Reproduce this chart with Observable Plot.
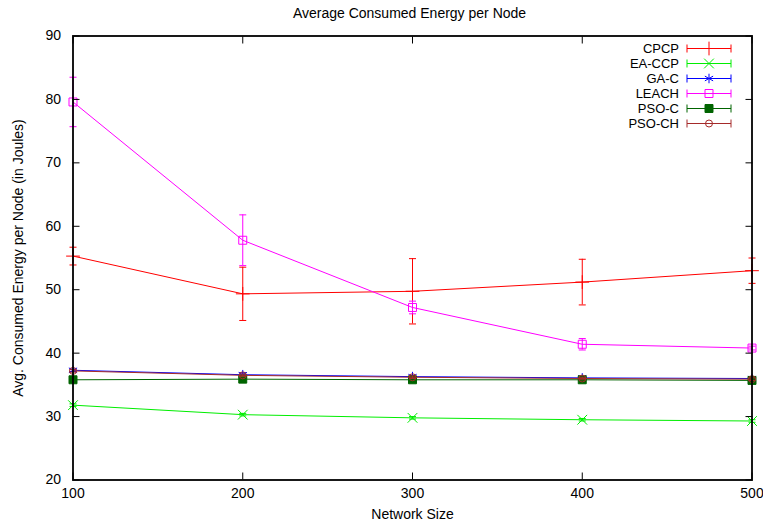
<!DOCTYPE html>
<html>
<head>
<meta charset="utf-8">
<script src="https://cdn.jsdelivr.net/npm/d3@7"></script>
<script src="https://cdn.jsdelivr.net/npm/@observablehq/plot@0.6"></script>
<style>
  html, body { margin: 0; padding: 0; background: #fff; }
  #wrap { position: relative; width: 763px; height: 531px; font-family: "Liberation Sans", Arial, Helvetica, sans-serif; }
  #title { position: absolute; left: 0; top: 0; width: 763px; height: 24px; text-align: center; font-size: 14px; line-height: 26px; padding-left: 56px; box-sizing: border-box; }
  #chart { position: absolute; left: 0; top: 24px; }
  #legend { position: absolute; left: 0; top: 0; }
</style>
</head>
<body>
<div id="wrap">
  <div id="title">Average Consumed Energy per Node</div>
  <div id="chart"></div>
  <svg id="legend" width="763" height="531"></svg>
</div>
<script>
const networkSize = [100, 200, 300, 400, 500];
const xTicks = [100, 200, 300, 400, 500];
const yTicks = [20, 30, 40, 50, 60, 70, 80, 90];

const seriesNames = ["CPCP", "EA-CCP", "GA-C", "LEACH", "PSO-C", "PSO-CH"];
const seriesColors = ["#ff0000", "#00ee00", "#0000ff", "#ff00ff", "#006400", "#a52a2a"];
const seriesSymbols = ["plus", "times", "asterisk", "square", "square", "circle"];
const seriesFilled = [false, false, false, false, true, false];

const cpcp     = [55.3, 49.35, 49.75, 51.2, 53.0];
const cpcpErr  = [1.4, 4.2, 5.15, 3.6, 2.0];
const eaccp    = [31.8, 30.3, 29.8, 29.5, 29.3];
const eaccpErr = [0.2, 0.2, 0.2, 0.2, 0.2];
const gac      = [37.3, 36.6, 36.3, 36.1, 36.0];
const gacErr   = [0.2, 0.3, 0.2, 0.2, 0.2];
const leach    = [79.6, 57.8, 47.2, 41.4, 40.8];
const leachErr = [3.9, 4.0, 1.0, 0.9, 0.3];
const psoc     = [35.8, 35.9, 35.8, 35.8, 35.7];
const psocErr  = [0.2, 0.2, 0.2, 0.2, 0.2];
const psoch    = [37.2, 36.5, 36.2, 36.0, 35.9];
const psochErr = [0.2, 0.2, 0.2, 0.2, 0.2];

const values = [cpcp, eaccp, gac, leach, psoc, psoch];
const errors = [cpcpErr, eaccpErr, gacErr, leachErr, psocErr, psochErr];

const rows = [];
seriesNames.forEach((name, si) => {
  networkSize.forEach((x, i) => {
    rows.push({series: name, si, x, y: values[si][i], lo: values[si][i] - errors[si][i], hi: values[si][i] + errors[si][i]});
  });
});

const cap = {draw(ctx) { ctx.moveTo(-3.5, 0); ctx.lineTo(3.5, 0); }};
const font = '"Liberation Sans", Arial, Helvetica, sans-serif';

const marks = [];
seriesNames.forEach((name, si) => {
  const d = rows.filter(r => r.si === si);
  const c = seriesColors[si];
  marks.push(Plot.line(d, {x: "x", y: "y", stroke: c, strokeWidth: 1}));
  marks.push(Plot.ruleX(d, {x: "x", y1: "lo", y2: "hi", stroke: c, strokeWidth: 1}));
  marks.push(Plot.dot(d, {x: "x", y: "lo", symbol: cap, stroke: c, strokeWidth: 1, r: 3}));
  marks.push(Plot.dot(d, {x: "x", y: "hi", symbol: cap, stroke: c, strokeWidth: 1, r: 3}));
  marks.push(Plot.dot(d, {x: "x", y: "y", symbol: seriesSymbols[si], stroke: c, fill: seriesFilled[si] ? c : "none", strokeWidth: 1, r: seriesSymbols[si] === "circle" ? 3.5 : 4.5}));
});

const chart = Plot.plot({
  width: 763,
  height: 507,
  marginTop: 11.5,
  marginBottom: 51.5,
  marginLeft: 72.5,
  marginRight: 11.5,
  style: {fontFamily: font, fontSize: "14px", color: "black", background: "white", overflow: "visible"},
  x: {domain: [100, 500]},
  y: {domain: [20, 90]},
  marks: [
    ...marks,
    Plot.axisX({ticks: xTicks, tickSize: -7, tickFormat: () => "", label: null, strokeWidth: 1}),
    Plot.axisX({anchor: "top", ticks: xTicks, tickSize: -7, tickFormat: () => "", label: null, strokeWidth: 1}),
    Plot.axisY({ticks: yTicks, tickSize: -7, tickFormat: () => "", label: null, strokeWidth: 1}),
    Plot.axisY({anchor: "right", ticks: yTicks, tickSize: -7, tickFormat: () => "", label: null, strokeWidth: 1}),
    Plot.axisX({ticks: xTicks, tickSize: 0, tickPadding: 8, label: null, fontSize: 14}),
    Plot.axisY({ticks: yTicks, tickSize: 0, tickPadding: 12, label: null, fontSize: 14}),
    Plot.frame({stroke: "black", strokeWidth: 1.8}),
    Plot.text(["Network Size"], {frameAnchor: "bottom", dy: 39, fontSize: 14, textAnchor: "middle"}),
    Plot.text(["Avg. Consumed Energy per Node (in Joules)"], {frameAnchor: "left", rotate: -90, dx: -54, fontSize: 14, textAnchor: "middle"})
  ]
});
document.getElementById("chart").appendChild(chart);

// legend
const lg = d3.select("#legend");
const typeMap = {plus: d3.symbolPlus, times: d3.symbolTimes, asterisk: d3.symbolAsterisk, square: d3.symbolSquare, circle: d3.symbolCircle};
seriesNames.forEach((name, i) => {
  const y = 48.5 + 15 * i;
  const c = seriesColors[i];
  const g = lg.append("g");
  g.append("text").attr("x", 679).attr("y", y).attr("dy", "0.35em").attr("text-anchor", "end")
    .attr("font-family", font).attr("font-size", 13).text(name);
  g.append("line").attr("x1", 687).attr("x2", 731).attr("y1", y).attr("y2", y).attr("stroke", c);
  g.append("line").attr("x1", 687).attr("x2", 687).attr("y1", y - 4).attr("y2", y + 4).attr("stroke", c);
  g.append("line").attr("x1", 731).attr("x2", 731).attr("y1", y - 4).attr("y2", y + 4).attr("stroke", c);
  const r = seriesSymbols[i] === "circle" ? 3.5 : 4.5;
  g.append("path").attr("transform", `translate(709,${y})`)
    .attr("d", d3.symbol(typeMap[seriesSymbols[i]] || d3.symbolCircle, Math.PI * r * r)())
    .attr("stroke", c).attr("fill", seriesFilled[i] ? c : "none");
});
</script>
</body>
</html>
